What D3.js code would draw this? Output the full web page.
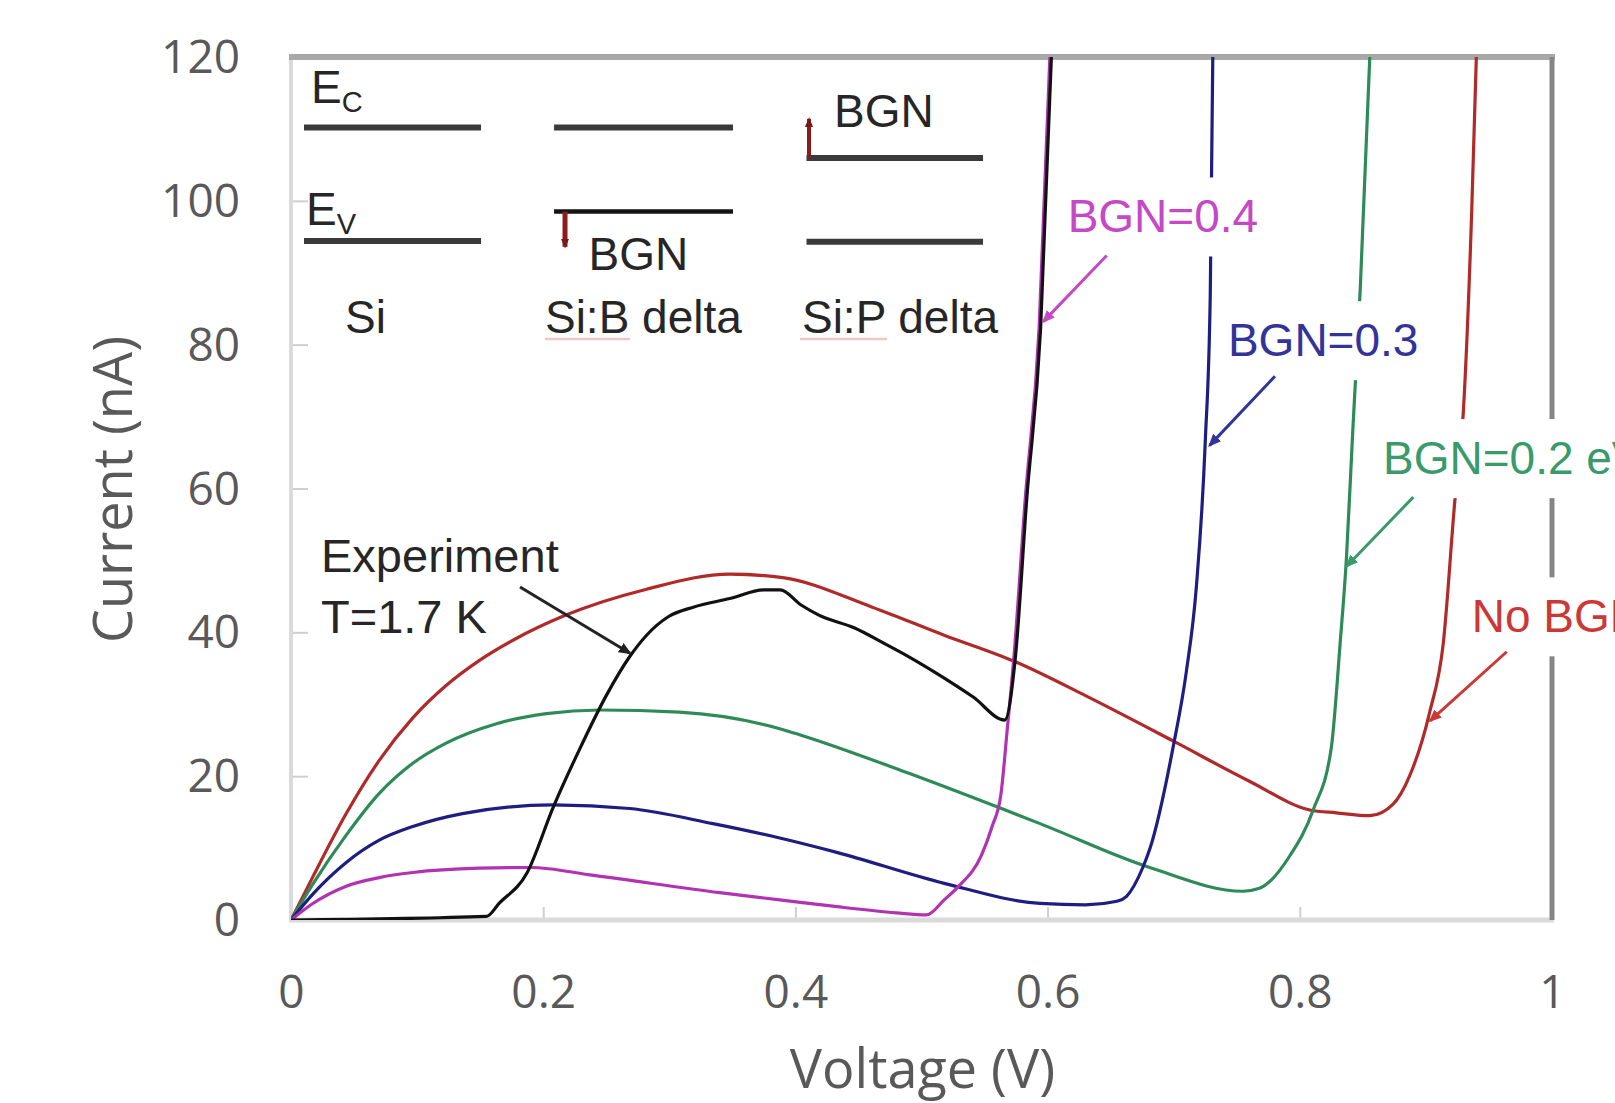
<!DOCTYPE html>
<html>
<head>
<meta charset="utf-8">
<script src="https://cdn.jsdelivr.net/npm/d3@7"></script>
<style>
    body { margin: 0; background: #fff; }
    svg { display: block; }
</style>
</head>
<body>
<svg id="chart" width="1615" height="1103"></svg>
<script>
// tick values
var voltTicks = [0, 0.2, 0.4, 0.6, 0.8, 1];
var currentTicks = [0, 20, 40, 60, 80, 100, 120];

// Experiment, T=1.7 K
var expV = [0, 0.155, 0.165, 0.187, 0.208, 0.229, 0.25, 0.2685, 0.282, 0.2995, 0.319, 0.348, 0.375, 0.388, 0.4045, 0.4186, 0.447, 0.47, 0.49, 0.512, 0.541, 0.566, 0.5745, 0.5834, 0.5945, 0.603];
var expI = [0, 0.5, 2.3, 6.5, 15.7, 23.8, 31.2, 36.6, 39.6, 42.2, 43.5, 44.7, 45.9, 45.9, 43.8, 42.4, 40.6, 38.5, 36.6, 34.3, 31.0, 27.8, 36.6, 58.4, 82.4, 120];

// No BGN
var noBgnV = [0, 0.0173, 0.0438, 0.070, 0.0966, 0.123, 0.1495, 0.176, 0.218, 0.282, 0.348, 0.39, 0.461, 0.518, 0.5745, 0.63, 0.6995, 0.76, 0.808, 0.829, 0.8556, 0.874, 0.887, 0.903, 0.9138, 0.923, 0.9296, 0.9363, 0.94];
var noBgnI = [0, 6, 14.8, 22.2, 28.1, 32.6, 36.1, 38.9, 42.4, 46, 48.1, 47.6, 43.5, 39.6, 35.9, 31.2, 24.9, 19.3, 15.3, 14.9, 14.5, 16.1, 20, 28.9, 38.5, 58.4, 70.4, 98.4, 120];

// BGN = 0.2 eV
var bgn02V = [0, 0.0173, 0.0438, 0.070, 0.0966, 0.123, 0.163, 0.2025, 0.245, 0.308, 0.3876, 0.4045, 0.49, 0.5604, 0.594, 0.681, 0.755, 0.768, 0.792, 0.8106, 0.825, 0.832, 0.837, 0.842, 0.848, 0.8555];
var bgn02I = [0, 5.0, 11.8, 17.6, 21.8, 24.6, 27.3, 28.7, 29.2, 28.9, 26.6, 25.7, 20.4, 15.7, 13.4, 7.3, 4.0, 4.4, 8.9, 15.3, 24, 38.5, 50.4, 68, 88, 120];

// BGN = 0.3 eV
var bgn03V = [0, 0.0173, 0.0438, 0.070, 0.0966, 0.136, 0.2077, 0.2685, 0.3346, 0.3876, 0.4328, 0.518, 0.594, 0.63, 0.655, 0.6626, 0.6755, 0.6813, 0.6995, 0.710, 0.718, 0.725, 0.729, 0.731];
var bgn03I = [0, 3.6, 8.0, 11.1, 13, 14.8, 16, 15.5, 13.4, 11.4, 9.4, 5.1, 2.3, 2.1, 2.6, 3.3, 7.3, 10, 24, 34.5, 46.4, 66.4, 87, 120];

// BGN = 0.4 eV
var bgn04V = [0, 0.0173, 0.0438, 0.070, 0.0966, 0.1495, 0.19, 0.24, 0.34, 0.3876, 0.433, 0.48, 0.504, 0.518, 0.529, 0.5475, 0.556, 0.563, 0.568, 0.5733, 0.5822, 0.5933, 0.6018];
var bgn04I = [0, 2.3, 4.7, 5.9, 6.6, 7.2, 7.3, 6.2, 3.8, 2.8, 1.85, 1.0, 0.7, 2.8, 4.6, 9, 13, 17.5, 26.5, 36.6, 58.4, 82.4, 120];

// curve labels: text, label position, arrow start, arrow end (chart units)
var labelText = ["BGN=0.4", "BGN=0.3", "BGN=0.2 eV", "No BGN"];
var labelAt = [[0.6159, 95.6], [0.743, 78.4], [0.866, 62.0], [0.9363, 40.0]];
var arrowFrom = [[0.6469, 92.4], [0.7803, 75.6], [0.890, 58.8], [0.9641, 37.3]];
var arrowTo = [[0.5966, 83.2], [0.7285, 66.0], [0.8372, 49.2], [0.9033, 27.7]];

var CH = (function () {
    "use strict";

    var svg = d3.select("#chart");
    var defs = svg.append("defs");
    var x = d3.scaleLinear().domain([0, 1]).range([291, 1552]);
    var y = d3.scaleLinear().domain([0, 120]).range([920, 57]);

    var tickFont = "'Open Sans', 'DejaVu Sans', sans-serif";
    var labelFont = "'Liberation Sans', Arial, sans-serif";

    var series = [
        {v: noBgnV, i: noBgnI, color: "#b02a2a"},
        {v: bgn02V, i: bgn02I, color: "#2e8b57"},
        {v: bgn03V, i: bgn03I, color: "#1e1e82"},
        {v: bgn04V, i: bgn04I, color: "#b233b2"},
        {v: expV, i: expI, color: "#111111"}
    ];
    var labelColors = ["#c548c5", "#333399", "#3a9a6a", "#cc3838"];

    function frame() {
        var x0 = x.range()[0], x1 = x.range()[1];
        var y0 = y.range()[0], y1 = y.range()[1];

        // x axis, ticks point up into the plot
        var gx = svg.append("g")
            .attr("transform", "translate(0," + y0 + ")")
            .call(d3.axisBottom(x).tickValues(voltTicks).tickSize(-13).tickPadding(55)
                .tickFormat(d3.format("~g")));

        var gy = svg.append("g")
            .attr("transform", "translate(" + x0 + ",0)")
            .call(d3.axisLeft(y).tickValues(currentTicks).tickSize(-17).tickPadding(51));

        [gx, gy].forEach(function (g) {
            g.select(".domain").remove();
            g.selectAll(".tick line").attr("stroke", "#cfcfcf").attr("stroke-width", 2);
            g.selectAll("text")
                .attr("font-family", tickFont)
                .attr("font-size", 46)
                .attr("fill", "#595959");
        });
        gy.selectAll("text").attr("dy", "0.34em");

        // plot borders
        svg.append("line").attr("x1", x0).attr("x2", x0).attr("y1", y1).attr("y2", y0)
            .attr("stroke", "#dadada").attr("stroke-width", 4);
        svg.append("line").attr("x1", x0 - 2).attr("x2", x1 + 2).attr("y1", y0).attr("y2", y0)
            .attr("stroke", "#dadada").attr("stroke-width", 5);
        svg.append("line").attr("x1", x0 - 2).attr("x2", x1 + 3).attr("y1", y1).attr("y2", y1)
            .attr("stroke", "#a8a8a8").attr("stroke-width", 6);
        svg.append("line").attr("x1", x1).attr("x2", x1).attr("y1", y1).attr("y2", y0)
            .attr("stroke", "#858585").attr("stroke-width", 5);

        // axis titles
        svg.append("text")
            .attr("x", (x0 + x1) / 2 + 1).attr("y", 1088)
            .attr("text-anchor", "middle")
            .attr("font-family", tickFont).attr("font-size", 54).attr("fill", "#595959")
            .text("Voltage (V)");
        svg.append("text")
            .attr("transform", "translate(132," + ((y0 + y1) / 2 + 1) + ") rotate(-90)")
            .attr("text-anchor", "middle")
            .attr("font-family", tickFont).attr("font-size", 54).attr("fill", "#595959")
            .text("Current (nA)");
    }

    function curves() {
        var line = d3.line()
            .x(function (d) { return x(d[0]); })
            .y(function (d) { return y(d[1]); })
            .curve(d3.curveMonotoneX);

        defs.append("clipPath").attr("id", "plotclip")
            .append("rect")
            .attr("x", x.range()[0]).attr("y", y.range()[1])
            .attr("width", x.range()[1] - x.range()[0])
            .attr("height", y.range()[0] - y.range()[1]);

        svg.append("g").attr("clip-path", "url(#plotclip)")
            .selectAll("path")
            .data(series)
            .enter().append("path")
            .attr("d", function (s) { return line(d3.zip(s.v, s.i)); })
            .attr("fill", "none")
            .attr("stroke", function (s) { return s.color; })
            .attr("stroke-width", 3.2)
            .attr("stroke-linejoin", "round");
    }

    function marker(id, color, w, h) {
        defs.append("marker")
            .attr("id", id)
            .attr("viewBox", "0 -5 12 10")
            .attr("refX", 10).attr("refY", 0)
            .attr("markerUnits", "userSpaceOnUse")
            .attr("markerWidth", w || 13).attr("markerHeight", h || 11)
            .attr("orient", "auto")
            .append("path").attr("d", "M0,-5L12,0L0,5Z").attr("fill", color);
    }

    function arrow(from, to, color, id) {
        svg.append("line")
            .attr("x1", x(from[0])).attr("y1", y(from[1]))
            .attr("x2", x(to[0])).attr("y2", y(to[1]))
            .attr("stroke", color).attr("stroke-width", 3)
            .attr("marker-end", "url(#" + id + ")");
    }

    function annotations() {
        labelText.forEach(function (t, k) {
            var g = svg.append("g");
            var txt = g.append("text")
                .attr("x", x(labelAt[k][0])).attr("y", y(labelAt[k][1]))
                .attr("font-family", labelFont).attr("font-size", 46)
                .attr("fill", labelColors[k])
                .text(t);
            var b = txt.node().getBBox();
            // white box behind the label hides the curves under it
            g.insert("rect", "text")
                .attr("x", b.x - 6).attr("y", b.y - 13)
                .attr("width", b.width + 12).attr("height", b.height + 27)
                .attr("fill", "#fff");
            marker("head" + k, labelColors[k]);
            arrow(arrowFrom[k], arrowTo[k], labelColors[k], "head" + k);
        });

        // experiment label
        var ex = svg.append("text")
            .attr("font-family", labelFont).attr("font-size", 47).attr("fill", "#262626");
        ex.append("tspan").attr("x", x(0.0238)).attr("y", y(48.4)).text("Experiment");
        ex.append("tspan").attr("x", x(0.0238)).attr("y", y(39.9)).text("T=1.7 K");
        marker("headExp", "#222");
        arrow([0.1816, 46.3], [0.2688, 37.1], "#222", "headExp");
    }

    function bandInset() {
        var g = svg.append("g");
        // band edges [vStart, vEnd, level] in chart units
        var thick = [
            [0.0103, 0.1507, 110.2], [0.0103, 0.1507, 94.4],
            [0.2086, 0.3505, 110.2],
            [0.4088, 0.5488, 105.95], [0.4088, 0.5488, 94.3]
        ];
        g.selectAll("line.band")
            .data(thick)
            .enter().append("line")
            .attr("x1", function (d) { return x(d[0]); })
            .attr("x2", function (d) { return x(d[1]); })
            .attr("y1", function (d) { return y(d[2]); })
            .attr("y2", function (d) { return y(d[2]); })
            .attr("stroke", "#3a3a3a").attr("stroke-width", 6);
        // shifted valence band of Si:B delta
        g.append("line")
            .attr("x1", x(0.2086)).attr("x2", x(0.3505))
            .attr("y1", y(98.5)).attr("y2", y(98.5))
            .attr("stroke", "#141414").attr("stroke-width", 4.5);

        // small red BGN arrows
        marker("headRed", "#7a1818", 10, 11);
        g.append("line")
            .attr("x1", x(0.2173)).attr("x2", x(0.2173))
            .attr("y1", y(98.5)).attr("y2", y(93.6))
            .attr("stroke", "#8a1c1c").attr("stroke-width", 5)
            .attr("marker-end", "url(#headRed)");
        g.append("line")
            .attr("x1", x(0.4108)).attr("x2", x(0.4108))
            .attr("y1", y(105.95)).attr("y2", y(111.4))
            .attr("stroke", "#8a1c1c").attr("stroke-width", 4)
            .attr("marker-end", "url(#headRed)");

        // spell-check underlines
        [[0.2014, 0.2689], [0.4036, 0.4726]].forEach(function (d) {
            g.append("line")
                .attr("x1", x(d[0])).attr("x2", x(d[1]))
                .attr("y1", y(80.8)).attr("y2", y(80.8))
                .attr("stroke", "#f0c6c6").attr("stroke-width", 2.5);
        });

        var texts = [
            ["Si", 0.0428, 81.6], ["Si:B delta", 0.2014, 81.6], ["Si:P delta", 0.4052, 81.6],
            ["BGN", 0.2359, 90.4], ["BGN", 0.4306, 110.3]
        ];
        g.selectAll("text.inset")
            .data(texts)
            .enter().append("text")
            .attr("x", function (d) { return x(d[1]); })
            .attr("y", function (d) { return y(d[2]); })
            .attr("font-family", labelFont).attr("font-size", 46).attr("fill", "#262626")
            .text(function (d) { return d[0]; });

        [["C", 0.0159, 113.6], ["V", 0.0119, 96.7]].forEach(function (d) {
            var t = g.append("text")
                .attr("x", x(d[1])).attr("y", y(d[2]))
                .attr("font-family", labelFont).attr("font-size", 46).attr("fill", "#262626");
            t.append("tspan").text("E");
            t.append("tspan").attr("font-size", 29).attr("dy", 9).text(d[0]);
        });
    }

    return {
        draw: function () {
            frame();
            curves();
            bandInset();
            annotations();
        }
    };
}());

CH.draw();
</script>
</body>
</html>
